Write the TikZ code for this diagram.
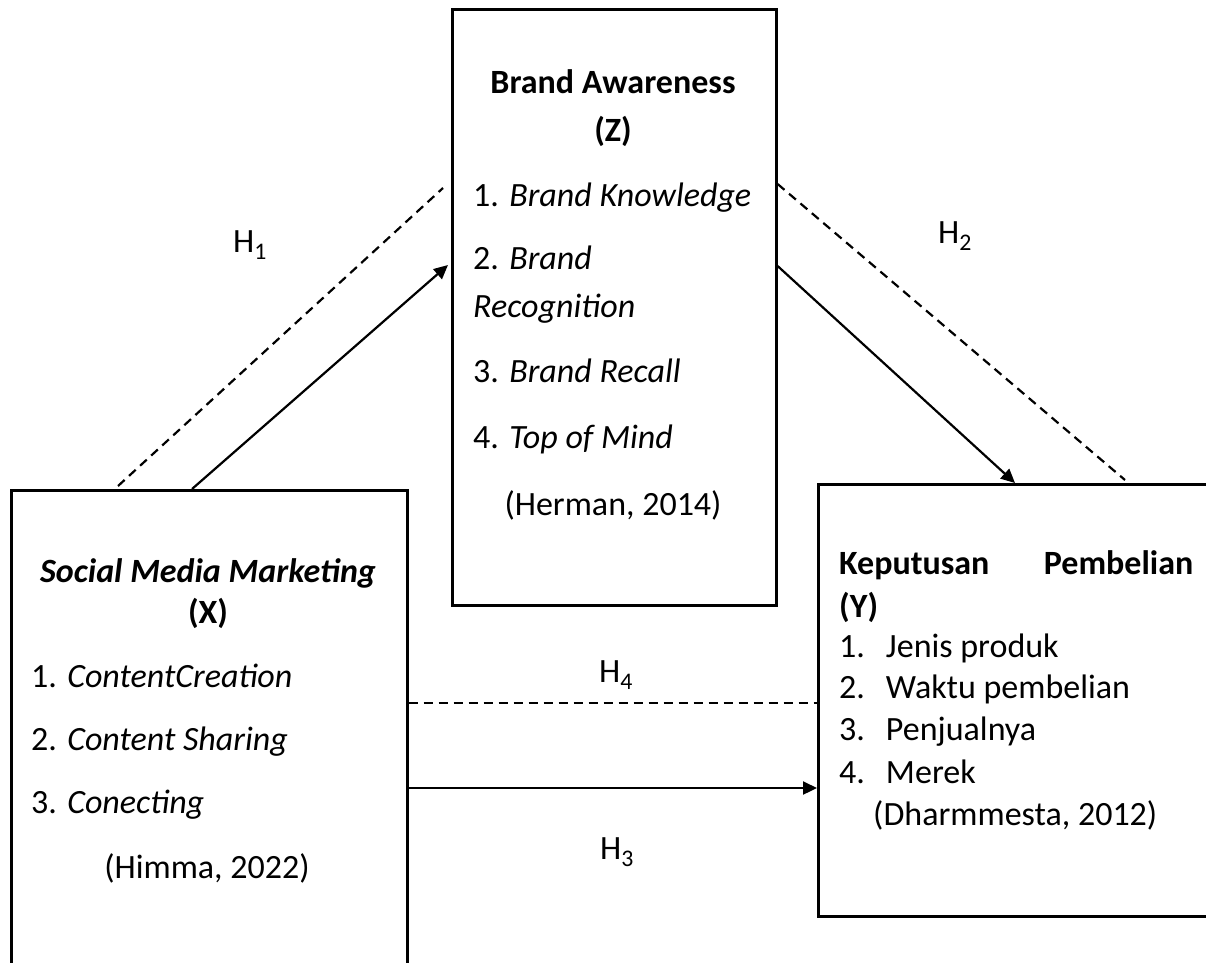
\documentclass[tikz,border=0pt]{standalone}
\usepackage{fontspec}
\setmainfont{Carlito}
\usetikzlibrary{arrows.meta}

\begin{document}
\begin{tikzpicture}[x=1pt, y=-1pt,
    varbox/.style={rectangle, draw, line width=2.6pt, anchor=north west, inner sep=0pt},
    txt/.style={inner sep=0pt, font=\fontsize{34}{41}\selectfont},
    link/.style={line width=2.2pt, -{Triangle[length=14pt,width=13pt]}},
    hyp/.style={line width=2.2pt, dash pattern=on 9pt off 6pt}]
    \useasboundingbox (0,0) rectangle (1206,962);

    % Variable boxes
    \node[varbox, minimum width=324pt, minimum height=596pt] (aware) at (451,8) {};
    \node[varbox, minimum width=396pt, minimum height=520pt] (smm) at (10,489) {};
    \node[varbox, minimum width=400pt, minimum height=432pt] (kep) at (817,483) {};

    % Brand Awareness (Z)
    \node[txt, anchor=base] (zt) at (613,93) {\textbf{Brand Awareness}};
    \node[txt, anchor=base] (zl) at (613,141) {\textbf{(Z)}};
    \node[txt, anchor=base west] (z1) at (473,206) {1. \textit{Brand Knowledge}};
    \node[txt, anchor=base west] (z2) at (473,269) {2. \textit{Brand}};
    \node[txt, anchor=base west] (z2b) at (473,317) {\textit{Recognition}};
    \node[txt, anchor=base west] (z3) at (473,382) {3. \textit{Brand Recall}};
    \node[txt, anchor=base west] (z4) at (473,448) {4. \textit{Top of Mind}};
    \node[txt, anchor=base] (zsrc) at (613,515) {(Herman, 2014)};

    % Social Media Marketing (X)
    \node[txt, anchor=base] (xt) at (208,582) {\textbf{\textit{Social Media Marketing}}};
    \node[txt, anchor=base] (xl) at (208,623) {\textbf{(X)}};
    \node[txt, anchor=base west] (x1) at (31,687) {1. \textit{ContentCreation}};
    \node[txt, anchor=base west] (x2) at (31,750) {2. \textit{Content Sharing}};
    \node[txt, anchor=base west] (x3) at (31,813) {3. \textit{Conecting}};
    \node[txt, anchor=base] (xsrc) at (207,878) {(Himma, 2022)};

    % Keputusan Pembelian (Y)
    \node[txt, anchor=base west] (yt) at (839,574) {\makebox[354pt][s]{\textbf{Keputusan Pembelian}}};
    \node[txt, anchor=base west] (yl) at (839,617) {\textbf{(Y)}};
    \node[txt, anchor=base west] (y1) at (839,657) {1.\hspace{21pt}Jenis produk};
    \node[txt, anchor=base west] (y2) at (839,698) {2.\hspace{21pt}Waktu pembelian};
    \node[txt, anchor=base west] (y3) at (839,740) {3.\hspace{21pt}Penjualnya};
    \node[txt, anchor=base west] (y4) at (839,783) {4.\hspace{21pt}Merek};
    \node[txt, anchor=base west] (ysrc) at (873,825) {(Dharmmesta, 2012)};

    % Hypothesis labels
    \node[txt] (h1) at (250,245) {H\textsubscript{1}};
    \node[txt] (h2) at (955,236) {H\textsubscript{2}};
    \node[txt] (h4) at (616,675) {H\textsubscript{4}};
    \node[txt] (h3) at (617,852) {H\textsubscript{3}};

    % Connectors
    \draw[hyp] ([xshift=108pt,yshift=3pt]smm.north west) -- ([xshift=-8pt,yshift=-180pt]aware.north west);
    \draw[link] ([xshift=182pt]smm.north west) -- ([xshift=-3pt,yshift=-257pt]aware.north west);
    \draw[hyp] ([yshift=-176pt]aware.north east) -- ([xshift=308pt,yshift=3pt]kep.north west);
    \draw[link] ([yshift=-258pt]aware.north east) -- ([xshift=198pt]kep.north west);
    \draw[hyp] ([yshift=-214pt]smm.north east) -- ([yshift=-220pt]kep.north west);
    \draw[link] ([yshift=-299pt]smm.north east) -- ([yshift=-305pt]kep.north west);
\end{tikzpicture}
\end{document}
